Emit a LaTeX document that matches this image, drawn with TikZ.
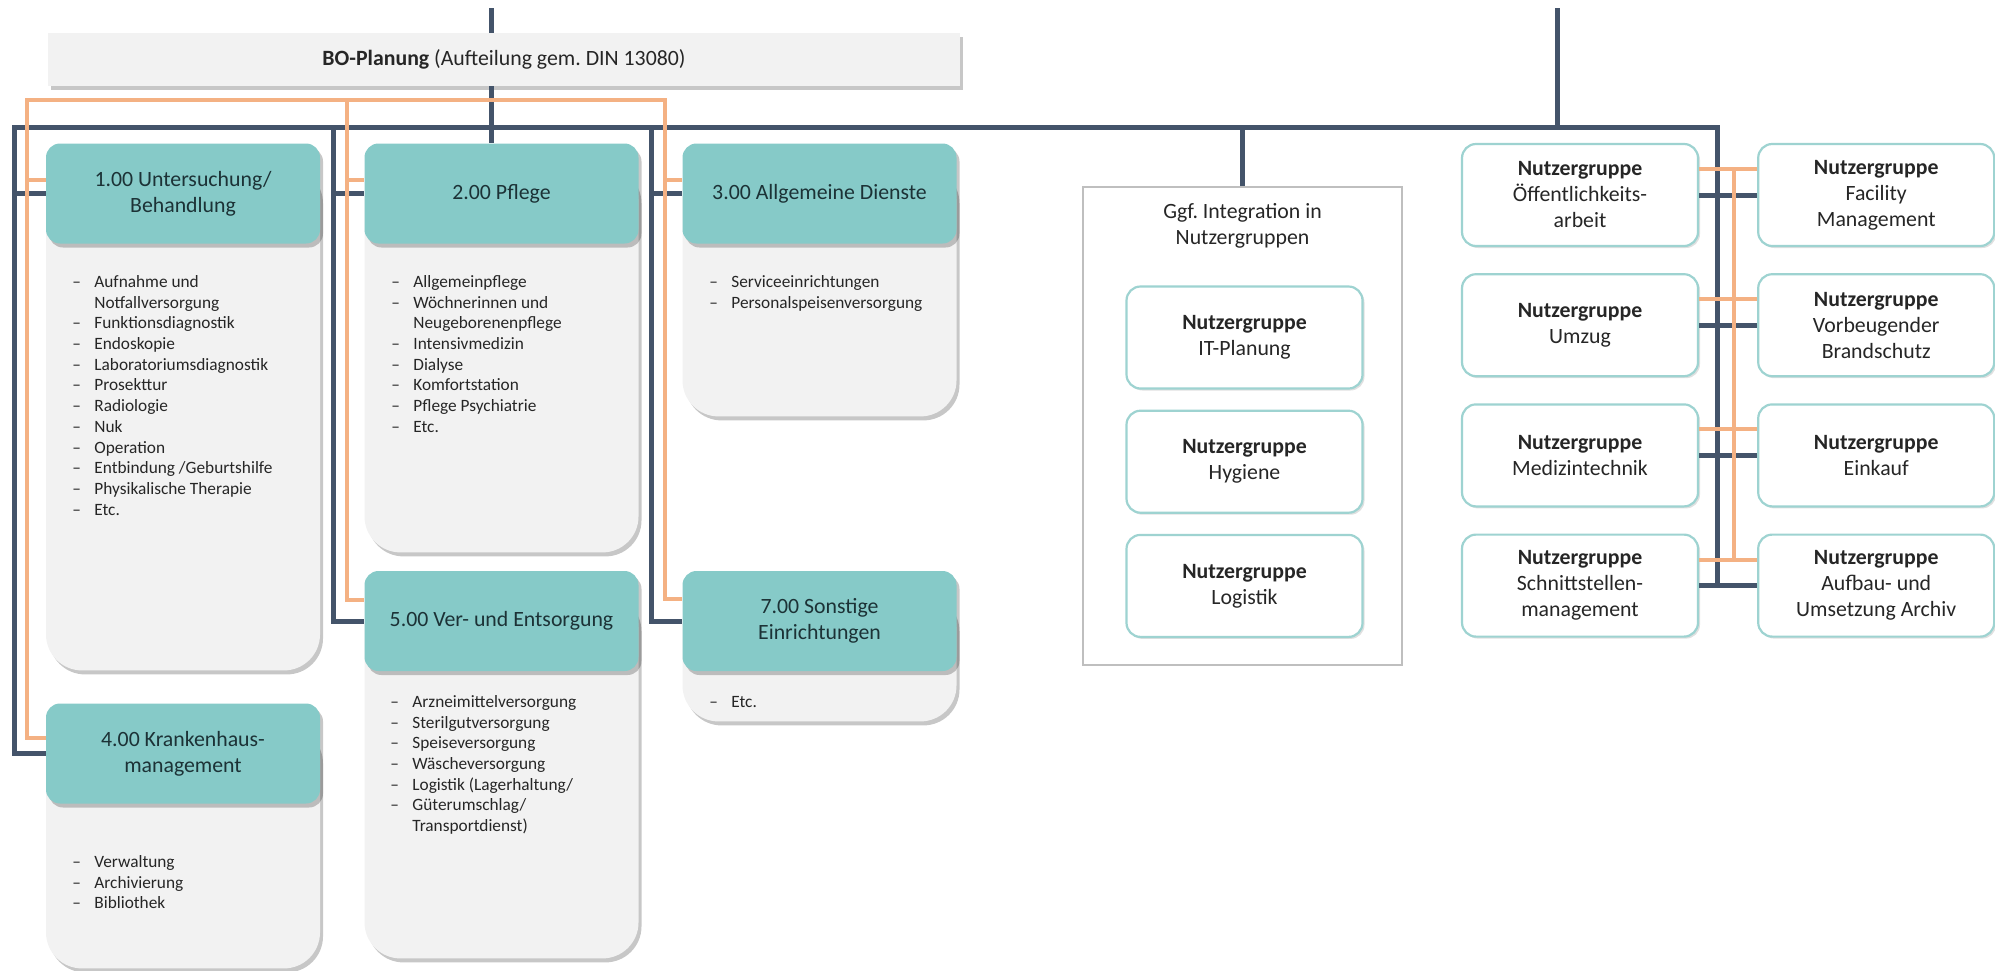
\documentclass[tikz,border=0pt]{standalone}
\usepackage{fontspec}
\setmainfont{Carlito}
\usetikzlibrary{positioning,shadows}

\definecolor{headteal}{HTML}{86CAC8}
\definecolor{bodygray}{HTML}{F2F2F2}
\definecolor{lineblue}{HTML}{44546A}
\definecolor{lineorange}{HTML}{F4B183}
\definecolor{ngborder}{HTML}{9ED3D1}
\definecolor{ggfborder}{HTML}{BFBFBF}
\definecolor{headtxt}{HTML}{1C3236}

\newcommand{\dashitem}{\makebox[11pt][l]{–}}
\newcommand{\contitem}{\hspace*{11pt}}
\frenchspacing

\begin{document}
\begin{tikzpicture}[x=0.5pt, y=-0.5pt,
  softshadow/.style={drop shadow={shadow xshift=1.5pt, shadow yshift=-2pt, opacity=.22, fill=black}},
  header/.style={rectangle, rounded corners=7pt, fill=headteal, minimum width=137pt,
    minimum height=50pt, align=center, text=headtxt, inner sep=2pt,
    font=\fontsize{10.9pt}{13pt}\selectfont, softshadow},
  bodybox/.style={rectangle, rounded corners=18pt, fill=bodygray, minimum width=137pt,
    anchor=north, inner sep=0pt, softshadow},
  listtext/.style={anchor=north west, align=left, inner sep=0pt, text=black!85,
    font=\fontsize{8.65pt}{10.35pt}\selectfont},
  ngbox/.style={rectangle, rounded corners=7pt, draw=ngborder, line width=1.1pt, fill=white,
    minimum width=118pt, minimum height=51pt, align=center, text=black!85, inner sep=2pt,
    font=\fontsize{10.9pt}{13pt}\selectfont,
    drop shadow={shadow xshift=1pt, shadow yshift=-1pt, opacity=.12, fill=black}},
  darkln/.style={draw=lineblue, line width=2.5pt},
  orangeln/.style={draw=lineorange, line width=2pt}]

  \useasboundingbox (0,0) rectangle (1995,970);

  \node [rectangle, fill=bodygray, minimum width=456pt, minimum height=26.5pt, text=black!85,
    font=\fontsize{10.9pt}{13pt}\selectfont, softshadow] (bo) at (504,59.5)
    {\textbf{BO-Planung} (Aufteilung gem. DIN 13080)};

  \node [bodybox, minimum height=253.5pt] (b1) at (183,163) {};
  \node [bodybox, minimum height=194.5pt] (b2) at (501.5,163) {};
  \node [bodybox, minimum height=126.5pt] (b3) at (819.5,163) {};
  \node [bodybox, minimum height=122.5pt] (b4) at (183,723) {};
  \node [bodybox, minimum height=183.5pt] (b5) at (501.5,591) {};
  \node [bodybox, minimum height=65pt] (b7) at (819.5,591) {};

  \node [header] (h1) at (183,193.5) {1.00 Untersuchung/\\Behandlung};
  \node [header] (h2) at (501.5,193.5) {2.00 Pflege};
  \node [header] (h3) at (819.5,193.5) {3.00 Allgemeine Dienste};
  \node [header] (h4) at (183,753.5) {4.00 Krankenhaus-\\management};
  \node [header] (h5) at (501.5,621) {5.00 Ver- und Entsorgung};
  \node [header] (h7) at (819.5,621) {7.00 Sonstige\\Einrichtungen};

  \node [listtext] (l1) at (72,275) {\dashitem Aufnahme und\\ \contitem Notfallversorgung\\
    \dashitem Funktionsdiagnostik\\ \dashitem Endoskopie\\ \dashitem Laboratoriumsdiagnostik\\
    \dashitem Prosekttur\\ \dashitem Radiologie\\ \dashitem Nuk\\ \dashitem Operation\\
    \dashitem Entbindung /Geburtshilfe\\ \dashitem Physikalische Therapie\\ \dashitem Etc.};
  \node [listtext] (l2) at (391,275) {\dashitem Allgemeinpflege\\ \dashitem Wöchnerinnen und\\
    \contitem Neugeborenenpflege\\ \dashitem Intensivmedizin\\ \dashitem Dialyse\\
    \dashitem Komfortstation\\ \dashitem Pflege Psychiatrie\\ \dashitem Etc.};
  \node [listtext] (l3) at (709,275) {\dashitem Serviceeinrichtungen\\
    \dashitem Personalspeisenversorgung};
  \node [listtext] (l4) at (72,855) {\dashitem Verwaltung\\ \dashitem Archivierung\\
    \dashitem Bibliothek};
  \node [listtext] (l5) at (390,695) {\dashitem Arzneimittelversorgung\\
    \dashitem Sterilgutversorgung\\ \dashitem Speiseversorgung\\ \dashitem Wäscheversorgung\\
    \dashitem Logistik (Lagerhaltung/\\ \dashitem Güterumschlag/\\ \contitem Transportdienst)};
  \node [listtext] (l7) at (709,696) {\dashitem Etc.};

  \node [rectangle, draw=ggfborder, line width=1pt, fill=white, minimum width=159.5pt,
    minimum height=239pt] (ggf) at (1242.5,426) {};
  \node [align=center, text=black!85, font=\fontsize{10.9pt}{13pt}\selectfont] (ggft)
    at (1242.5,226) {Ggf. Integration in\\Nutzergruppen};
  \node [ngbox] (ngit) at (1244.5,337.5) {\textbf{Nutzergruppe}\\IT-Planung};
  \node [ngbox, below=10pt of ngit] (nghy) {\textbf{Nutzergruppe}\\Hygiene};
  \node [ngbox, below=10pt of nghy] (nglo) {\textbf{Nutzergruppe}\\Logistik};

  \node [ngbox] (ngL1) at (1580,195) {\textbf{Nutzergruppe}\\Öffentlichkeits-\\arbeit};
  \node [ngbox, below=13pt of ngL1] (ngL2) {\textbf{Nutzergruppe}\\Umzug};
  \node [ngbox, below=13pt of ngL2] (ngL3) {\textbf{Nutzergruppe}\\Medizintechnik};
  \node [ngbox, below=13pt of ngL3] (ngL4) {\textbf{Nutzergruppe}\\Schnittstellen-\\management};
  \node [ngbox, right=29pt of ngL1] (ngR1) {\textbf{Nutzergruppe}\\Facility\\Management};
  \node [ngbox, right=29pt of ngL2] (ngR2) {\textbf{Nutzergruppe}\\Vorbeugender\\Brandschutz};
  \node [ngbox, right=29pt of ngL3] (ngR3) {\textbf{Nutzergruppe}\\Einkauf};
  \node [ngbox, right=29pt of ngL4] (ngR4) {\textbf{Nutzergruppe}\\Aufbau- und\\Umsetzung Archiv};

  \coordinate (in1) at (491,8);
  \coordinate (in2) at (1557,8);
  \coordinate (busl) at (14,127);
  \coordinate (bus2) at (333,127);
  \coordinate (bus3) at (651,127);
  \coordinate (busr) at (1717,127);
  \coordinate (or1) at (27,100);
  \coordinate (or2) at (347,100);
  \coordinate (or3) at (665,100);
  \coordinate (orx) at (1734,0);

  \draw [darkln] (in1) -- (in1 |- bo.north);
  \draw [darkln] (in1 |- bo.south) -- (in1 |- h2.north);
  \draw [darkln] (in2) -- (in2 |- busr);
  \draw [darkln] (h4.west) -| (busl) -- (busr) -- (busr |- ngL4.east);
  \draw [darkln] (bus2) |- (h5.west);
  \draw [darkln] (bus3) |- (h7.west);
  \draw [darkln] (busl |- h1.west) -- (h1.west);
  \draw [darkln] (bus2 |- h2.west) -- (h2.west);
  \draw [darkln] (bus3 |- h3.west) -- (h3.west);
  \draw [darkln] (ggf.north) -- (ggf.north |- busr);

  \coordinate (oh1) at ([yshift=7pt]h1.west);
  \coordinate (oh2) at ([yshift=7pt]h2.west);
  \coordinate (oh3) at ([yshift=7pt]h3.west);
  \coordinate (oh4) at ([yshift=8pt]h4.west);
  \coordinate (oh5) at ([yshift=10.5pt]h5.west);
  \coordinate (oh7) at ([yshift=11pt]h7.west);
  \draw [orangeln] (oh4) -| (or1) -- (or3) |- (oh7);
  \draw [orangeln] (or2) |- (oh5);
  \draw [orangeln] (or1 |- oh1) -- (oh1);
  \draw [orangeln] (or2 |- oh2) -- (oh2);
  \draw [orangeln] (or3 |- oh3) -- (oh3);

  \foreach \i in {1,...,4} {
    \draw [darkln] (ngL\i.east) -- (ngR\i.west);
    \coordinate (ol\i) at ([yshift=13pt]ngL\i.east);
    \draw [orangeln] (ol\i) -- (ol\i -| ngR\i.west);
  }
  \draw [orangeln] (ol1 -| orx) -- (ol4 -| orx);
\end{tikzpicture}
\end{document}
